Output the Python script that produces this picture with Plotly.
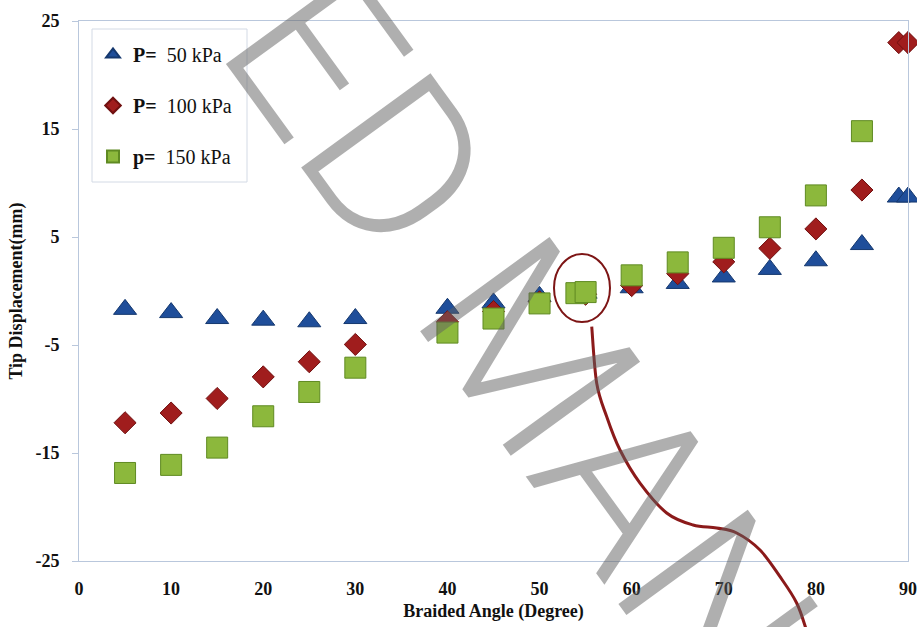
import plotly.graph_objects as go

# ---------------- data ----------------
x_p50 = [5, 10, 15, 20, 25, 30, 40, 45, 50, 55, 60, 65, 70, 75, 80, 85, 89, 90]
y_p50 = [-1.7, -2.0, -2.55, -2.7, -2.85, -2.55, -1.6, -1.1, -0.5, -0.2, 0.3, 0.7, 1.3, 2.0, 2.8, 4.3, 8.7, 8.7]

x_p100 = [5, 10, 15, 20, 25, 30, 40, 45, 50, 55, 60, 65, 70, 75, 80, 85, 89, 90]
y_p100 = [-12.2, -11.3, -9.95, -7.95, -6.55, -4.95, -2.85, -1.9, -1.0, -0.3, 0.5, 1.6, 2.7, 3.95, 5.75, 9.35, 23.0, 23.0]

x_p150 = [5, 10, 15, 20, 25, 30, 40, 45, 50, 54, 55, 60, 65, 70, 75, 80, 85]
y_p150 = [-16.85, -16.1, -14.5, -11.6, -9.35, -7.1, -3.85, -2.55, -1.15, -0.2, -0.1, 1.45, 2.65, 4.0, 5.9, 8.85, 14.8]

series_names = ["<b>P=</b>  50 kPa", "<b>P=</b>  100 kPa", "<b>p=</b>  150 kPa"]

x_tickvals = [0, 10, 20, 30, 40, 50, 60, 70, 80, 90]
x_ticktext = ["0", "10", "20", "30", "40", "50", "60", "70", "80", "90"]
y_tickvals = [-25, -15, -5, 5, 15, 25]
y_ticktext = ["-25", "-15", "-5", "5", "15", "25"]

x_title = "Braided Angle (Degree)"
y_title = "Tip Displacement(mm)"
watermark = "ACCEPTED MANUSCRIPT"

# ---------------- layout geometry ----------------
# the page body margin is removed (post_script), so the figure fills the window
OFF = 0
W, H = 917, 627
PL, PR, PT, PB = 79, 908, 21, 561          # wanted plot-area edges in window pixels
ML, MR, MT, MB = PL - OFF, OFF + W - PR, PT - OFF, OFF + H - PB
PW, PH = PR - PL, PB - PT


def px(xp):
    return (xp - PL) / PW


def py(yp):
    return 1 - (yp - PT) / PH


SERIF = "Liberation Serif, Times New Roman, serif"

fig = go.Figure()
fig.add_trace(go.Scatter(
    x=x_p50, y=y_p50, mode="markers", name=series_names[0], legendgroup="a",
    cliponaxis=False,
    marker=dict(symbol="triangle-up", size=20, color="#1f4e9a",
                line=dict(color="#15386e", width=1))))
fig.add_trace(go.Scatter(
    x=x_p100, y=y_p100, mode="markers", name=series_names[1], legendgroup="b",
    cliponaxis=False,
    marker=dict(symbol="diamond", size=17, color="#a01d1d",
                line=dict(color="#701010", width=1))))
fig.add_trace(go.Scatter(
    x=x_p150, y=y_p150, mode="markers", name=series_names[2], legendgroup="c",
    cliponaxis=False,
    marker=dict(symbol="square", size=21, color="#8cb83c",
                line=dict(color="#5f8a22", width=1))))

axis_line = "#b9c7dc"
fig.update_xaxes(
    range=[0, 90], tickvals=x_tickvals, ticktext=x_ticktext, automargin=False,
    showgrid=False, zeroline=False, showline=True, linecolor=axis_line, linewidth=1,
    mirror=True, ticks="", ticklabelstandoff=11, ticklabeloverflow="allow",
    tickfont=dict(family=SERIF, size=18, color="#111", weight="bold"),
    title=dict(text=x_title, standoff=6,
               font=dict(family=SERIF, size=18, color="#111", weight="bold")),
)
fig.update_yaxes(
    range=[-25, 25], tickvals=y_tickvals, ticktext=y_ticktext, automargin=False,
    showgrid=False, zeroline=False, showline=True, linecolor=axis_line, linewidth=1,
    mirror=True, ticks="outside", ticklen=6, tickcolor=axis_line, ticklabelstandoff=9,
    tickfont=dict(family=SERIF, size=18, color="#111", weight="bold"),
    title=dict(text=y_title, standoff=8,
               font=dict(family=SERIF, size=18, color="#111", weight="bold")),
)

# legend frame
fig.add_shape(type="rect", xref="paper", yref="paper", layer="below",
              x0=px(92), x1=px(247), y0=py(182), y1=py(29),
              line=dict(color="#d3dae5", width=1), fillcolor="white")

# red circle + curved pointer line (annotation decoration)
curve_pts = [(591.7, 326.7), (596.7, 383.3), (606.7, 416.7), (620, 450), (640, 483),
             (666.7, 513), (693, 525), (716.7, 528), (736.7, 533), (760, 550),
             (780, 576.7), (796.7, 603), (807, 632)]
path = "M %.4f,%.4f" % (px(curve_pts[0][0]), py(curve_pts[0][1]))
for i in range(len(curve_pts) - 1):
    p0 = curve_pts[i - 1] if i > 0 else curve_pts[i]
    p1 = curve_pts[i]
    p2 = curve_pts[i + 1]
    p3 = curve_pts[i + 2] if i + 2 < len(curve_pts) else p2
    c1 = (p1[0] + (p2[0] - p0[0]) / 6, p1[1] + (p2[1] - p0[1]) / 6)
    c2 = (p2[0] - (p3[0] - p1[0]) / 6, p2[1] - (p3[1] - p1[1]) / 6)
    path += " C %.4f,%.4f %.4f,%.4f %.4f,%.4f" % (px(c1[0]), py(c1[1]), px(c2[0]), py(c2[1]), px(p2[0]), py(p2[1]))

fig.add_shape(type="circle", xref="paper", yref="paper",
              x0=px(554), x1=px(610), y0=py(322), y1=py(254),
              line=dict(color="#7d1515", width=2))
fig.add_shape(type="path", xref="paper", yref="paper", path=path,
              line=dict(color="#8b1a1a", width=3))

# watermark
fig.add_annotation(
    text=watermark, xref="paper", yref="paper", x=px(540), y=py(365),
    xanchor="center", yanchor="middle", showarrow=False, textangle=54,
    font=dict(family="Roboto, Liberation Sans, sans-serif", size=225, weight=300,
              color="rgba(95,95,95,0.5)"))

fig.update_layout(
    width=W, height=H, autosize=False,
    margin=dict(l=ML, r=MR, t=MT, b=MB, autoexpand=False),
    paper_bgcolor="white", plot_bgcolor="white",
    showlegend=True,
    legend=dict(x=px(93), y=py(35), xanchor="left", yanchor="top",
                bgcolor="rgba(0,0,0,0)", borderwidth=0,
                font=dict(family=SERIF, size=20, color="#111"),
                tracegroupgap=22, itemsizing="constant"),
)

fig.write_html(
    "out.html",
    config={"displayModeBar": False},
    post_script="document.body.style.margin='0';document.body.style.overflow='hidden';",
)
